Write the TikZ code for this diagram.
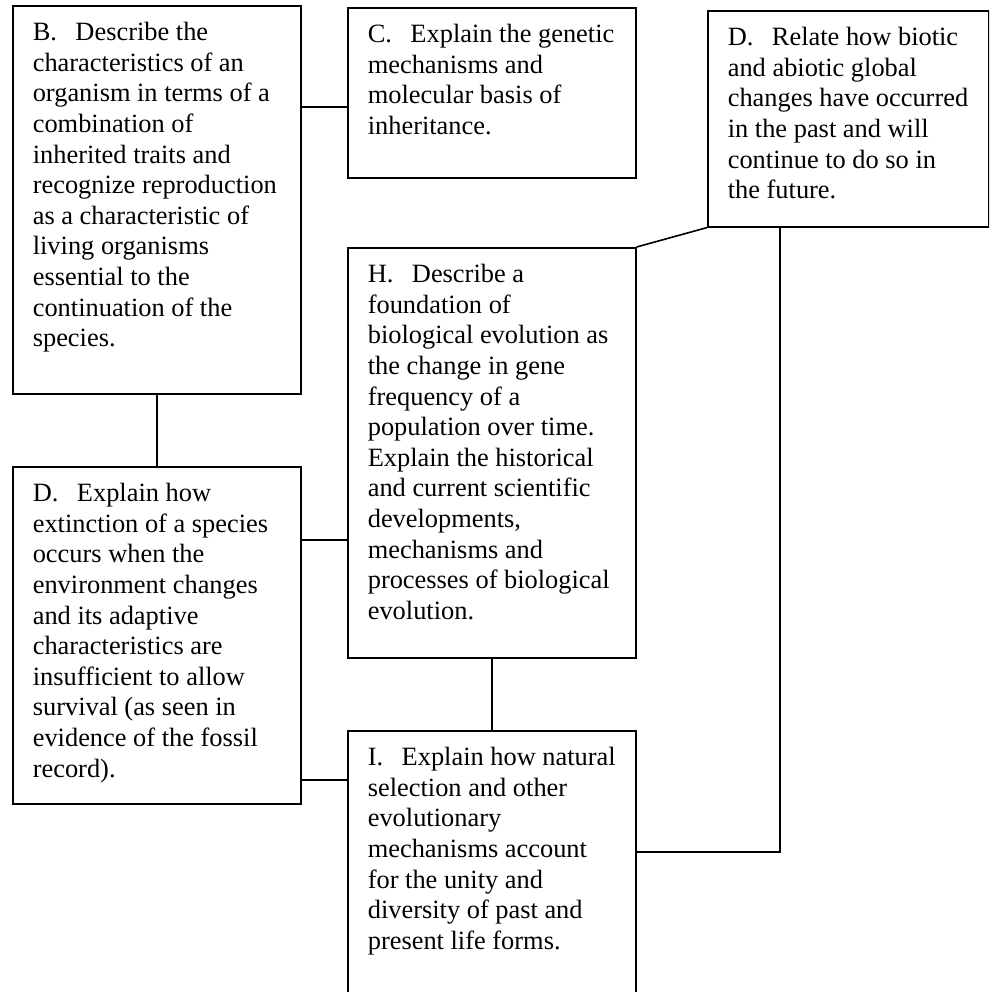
\documentclass[tikz,border=0pt]{standalone}
\usepackage{fontspec}
\setmainfont{Liberation Serif}

% text block of a box: height, width, lines
\newcommand{\topictext}[3]{\parbox[t][#1][t]{#2}{\raggedright\leftskip=20pt\vspace*{13.5pt}\strut#3}}

\begin{document}
\begin{tikzpicture}[x=1pt, y=-1pt,
    topic/.style={draw, line width=1.6pt, anchor=north west, inner sep=0pt,
      font=\fontsize{26.4}{30.6}\selectfont},
    link/.style={line width=1.6pt}]
    \useasboundingbox (0,0) rectangle (989,992);
    \clip (0,0) rectangle (989,992);

    \node[topic] (inherit) at (12,5) {\topictext{388pt}{288pt}{B.\hspace{0.7em}Describe the\\
      characteristics of an\\ organism in terms of a\\ combination of\\
      inherited traits and\\ recognize reproduction\\ as a characteristic of\\
      living organisms\\ essential to the\\ continuation of the\\ species.}};

    \node[topic] (genetic) at (347,7) {\topictext{170pt}{288pt}{C.\hspace{0.7em}Explain the genetic\\
      mechanisms and\\ molecular basis of\\ inheritance.}};

    \node[topic] (global) at (707,10) {\topictext{216pt}{281pt}{D.\hspace{0.7em}Relate how biotic\\
      and abiotic global\\ changes have occurred\\ in the past and will\\
      continue to do so in\\ the future.}};

    \node[topic] (found) at (347,247) {\topictext{410pt}{288pt}{H.\hspace{0.7em}Describe a\\
      foundation of\\ biological evolution as\\ the change in gene\\
      frequency of a\\ population over time.\\ Explain the historical\\
      and current scientific\\ developments,\\ mechanisms and\\
      processes of biological\\ evolution.}};

    \node[topic] (extinct) at (12,466) {\topictext{337pt}{288pt}{D.\hspace{0.7em}Explain how\\
      extinction of a species\\ occurs when the\\ environment changes\\
      and its adaptive\\ characteristics are\\ insufficient to allow\\
      survival (as seen in\\ evidence of the fossil\\ record).}};

    \node[topic] (select) at (347,730) {\topictext{280pt}{288pt}{I.\hspace{0.7em}Explain how natural\\
      selection and other\\ evolutionary\\ mechanisms account\\
      for the unity and\\ diversity of past and\\ present life forms.}};

    % connectors
    \draw[link] (inherit.east |- 0,107) -- (genetic.west |- 0,107);
    \draw[link] (inherit.south) -- (extinct.north);
    \draw[link] (extinct.east |- 0,540) -- (found.west |- 0,540);
    \draw[link] (found.north east) -- (global.south west);
    \draw[link] (found.south) -- (select.north);
    \draw[link] (extinct.east |- 0,780) -- (select.west |- 0,780);
    \draw[link] (select.east |- 0,852) -| (global.south -| 780,0);
\end{tikzpicture}
\end{document}
